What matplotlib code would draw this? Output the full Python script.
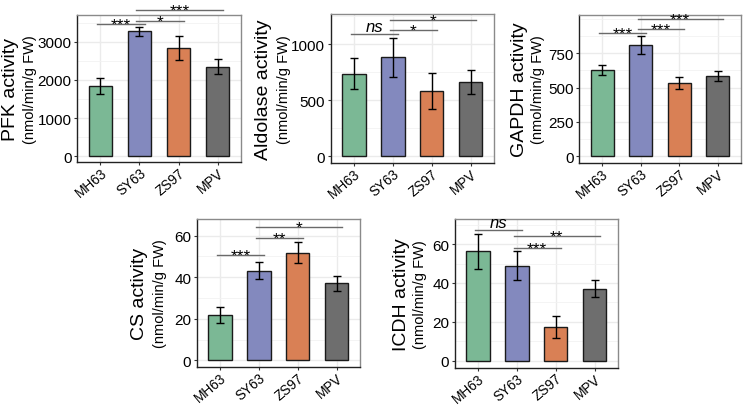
import matplotlib
matplotlib.use("Agg")
import matplotlib.pyplot as plt
from matplotlib.ticker import MultipleLocator

plt.rcParams['font.family'] = ['Liberation Sans', 'DejaVu Sans']

categories = ["MH63", "SY63", "ZS97", "MPV"]
colors = ["#7BB895", "#8389BE", "#D98055", "#6E6E6E"]

# enzyme panels
titles = ["PFK activity", "Aldolase activity", "GAPDH activity", "CS activity", "ICDH activity"]
unit_label = "(nmol/min/g FW)"

pfk_mean = [1840, 3270, 2835, 2345]
pfk_err = [210, 120, 315, 200]
ald_mean = [738, 884, 583, 663]
ald_err = [135, 175, 160, 103]
gapdh_mean = [630, 810, 534, 585]
gapdh_err = [38, 65, 46, 35]
cs_mean = [21.9, 43.1, 51.8, 37.1]
cs_err = [4.0, 4.2, 5.2, 3.5]
icdh_mean = [56.2, 48.8, 17.4, 37.0]
icdh_err = [9.0, 7.5, 5.8, 4.4]

# significance brackets: (group1, group2, y, label)
pfk_sig = [(0, 1, 3455, "***"), (1, 2, 3534, "*"), (1, 3, 3822, "***")]
ald_sig = [(0, 1, 1089, "ns"), (1, 2, 1125, "*"), (1, 3, 1220, "*")]
gapdh_sig = [(0, 1, 900, "***"), (1, 2, 929, "***"), (1, 3, 998, "***")]
cs_sig = [(0, 1, 50.8, "***"), (1, 2, 59.0, "**"), (1, 3, 64.2, "*")]
icdh_sig = [(0, 1, 67.4, "ns"), (1, 2, 58.2, "***"), (1, 3, 64.3, "**")]

ticks = [[0, 1000, 2000, 3000], [0, 500, 1000], [0, 250, 500, 750], [0, 20, 40, 60], [0, 20, 40, 60]]
minor_step = [500, 250, 125, 10, 10]
ylims = [(-149, 3699), (-60, 1270), (-49, 1031), (-3.2, 68.0), (-3.6, 72.9)]

means = [pfk_mean, ald_mean, gapdh_mean, cs_mean, icdh_mean]
errs = [pfk_err, ald_err, gapdh_err, cs_err, icdh_err]
sigs = [pfk_sig, ald_sig, gapdh_sig, cs_sig, icdh_sig]

W, H = 744, 406
# axes boxes in pixels: left, right, top, bottom
boxes = [(77, 241, 16, 163), (330.7, 494, 15, 164), (579, 741, 15.7, 164),
         (196.7, 360, 220, 368), (454.7, 618, 220, 368.7)]
label_off = [(-67, -47), (-67, -47), (-59, -41), (-57, -37), (-53, -35)]

fig = plt.figure(figsize=(W / 100, H / 100), dpi=100)
fig.patch.set_facecolor("white")

px2pt = 72 / 100

for i in range(5):
    l, r, t, b = boxes[i]
    ax = fig.add_axes([l / W, (H - b) / H, (r - l) / W, (b - t) / H])
    x = list(range(1, 5))
    ax.set_xlim(0.4, 4.6)
    ax.set_ylim(*ylims[i])
    ax.set_axisbelow(True)
    ax.bar(x, means[i], width=0.6, color=colors, edgecolor="#1a1a1a", linewidth=1.0, zorder=2)
    ax.errorbar(x, means[i], yerr=errs[i], fmt="none", ecolor="black", elinewidth=1.0,
                capsize=3.2, capthick=1.0, zorder=3)
    ax.set_yticks(ticks[i])
    ax.yaxis.set_minor_locator(MultipleLocator(minor_step[i]))
    ax.set_xticks(x)
    ax.set_xticklabels(categories, rotation=40, ha="right", va="top",
                       rotation_mode="anchor", fontsize=9.8)
    ax.tick_params(axis="y", labelsize=11, length=2.5, width=0.8, color="#333333", pad=1.5)
    ax.tick_params(axis="x", length=2.5, width=0.8, color="#333333", pad=0)
    ax.tick_params(axis="y", which="minor", length=0)
    ax.grid(True, which="major", color="#EBEBEB", linewidth=1.0, zorder=0)
    ax.grid(True, which="minor", axis="y", color="#F2F2F2", linewidth=0.6, zorder=0)
    for s in ["top", "right"]:
        ax.spines[s].set_color("#8a8a8a")
        ax.spines[s].set_linewidth(1.0)
    for s in ["left", "bottom"]:
        ax.spines[s].set_color("#222222")
        ax.spines[s].set_linewidth(1.0)
    # y labels (two lines, two sizes)
    o1, o2 = label_off[i]
    ax.annotate(titles[i], xy=(0, 0.5), xycoords="axes fraction",
                xytext=(o1 * px2pt, 0), textcoords="offset points",
                rotation=90, ha="center", va="center", fontsize=14, annotation_clip=False)
    ax.annotate(unit_label, xy=(0, 0.5), xycoords="axes fraction",
                xytext=(o2 * px2pt, 0), textcoords="offset points",
                rotation=90, ha="center", va="center", fontsize=10.5, annotation_clip=False)
    # significance brackets
    for g1, g2, yv, lab in sigs[i]:
        x1 = x[g1] - 0.08
        x2 = x[g2] + 0.13
        ax.plot([x1, x2], [yv, yv], color="#6a6a6a", linewidth=1.0, clip_on=False, zorder=4)
        if lab == "ns":
            ax.annotate(lab, xy=((x1 + x2) / 2, yv), xycoords="data",
                        xytext=(0, 2), textcoords="offset points",
                        ha="center", va="baseline", fontsize=12, style="italic",
                        annotation_clip=False)
        else:
            ax.annotate(lab, xy=((x1 + x2) / 2, yv), xycoords="data",
                        xytext=(0, -3.7), textcoords="offset points",
                        ha="center", va="baseline", fontsize=12.5, annotation_clip=False)

fig.savefig("out.png", dpi=100, facecolor="white")
